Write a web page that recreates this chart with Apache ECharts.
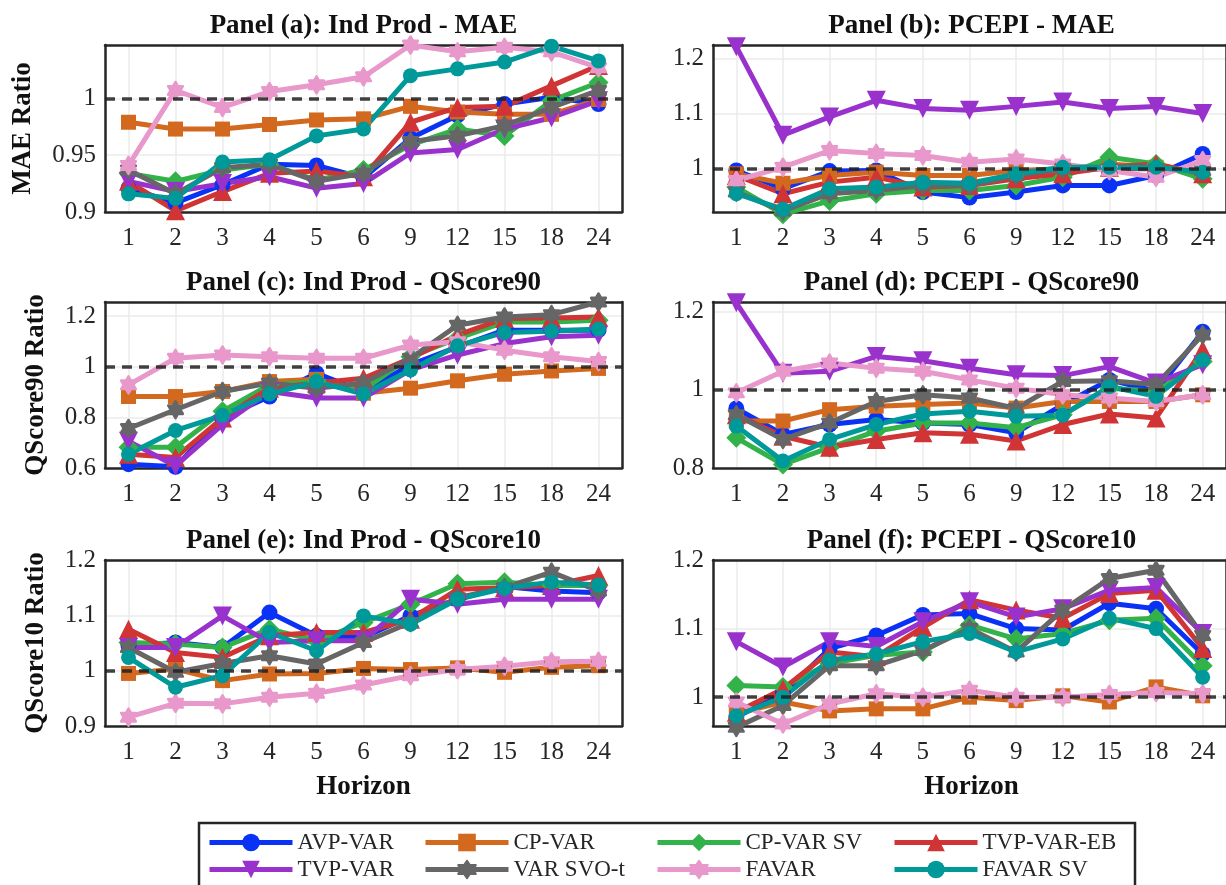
<!DOCTYPE html>
<html><head><meta charset="utf-8">
<script src="https://cdn.jsdelivr.net/npm/echarts@6/dist/echarts.min.js"></script>
<style>html,body{margin:0;padding:0;background:#fff}#c{width:1226px;height:885px}</style>
</head><body><div id="c"></div>
<script>
// ---------- DATA ----------
const horizons = ['1','2','3','4','5','6','9','12','15','18','24'];
const seriesNames = ['AVP-VAR','CP-VAR','CP-VAR SV','TVP-VAR-EB','TVP-VAR','VAR SVO-t','FAVAR','FAVAR SV'];
const panelTitles = ['Panel (a): Ind Prod - MAE','Panel (b): PCEPI - MAE','Panel (c): Ind Prod - QScore90','Panel (d): PCEPI - QScore90','Panel (e): Ind Prod - QScore10','Panel (f): PCEPI - QScore10'];
const yAxisTitles = ['MAE Ratio','QScore90 Ratio','QScore10 Ratio'];
const xAxisTitle = 'Horizon';

// Panel (a) Ind Prod - MAE
const a_avp    = [0.921,0.908,0.924,0.942,0.941,0.930,0.965,0.985,0.995,1.001,0.995];
const a_cp     = [0.979,0.973,0.973,0.977,0.981,0.982,0.993,0.988,0.986,0.986,0.999];
const a_cpsv   = [0.934,0.927,0.937,0.942,0.928,0.937,0.959,0.973,0.967,0.998,1.014];
const a_tvpeb  = [0.927,0.901,0.918,0.934,0.936,0.931,0.979,0.992,0.993,1.011,1.029];
const a_tvp    = [0.927,0.918,0.925,0.931,0.921,0.925,0.952,0.955,0.973,0.983,0.998];
const a_svo    = [0.937,0.916,0.939,0.942,0.927,0.934,0.962,0.967,0.976,0.992,1.007];
const a_favar  = [0.941,1.007,0.992,1.006,1.012,1.019,1.047,1.041,1.045,1.041,1.027];
const a_favsv  = [0.916,0.912,0.944,0.946,0.967,0.973,1.020,1.026,1.032,1.046,1.033];
const a_yticks = [0.9,0.95,1];

// Panel (b) PCEPI - MAE
const b_avp    = [0.997,0.964,0.996,0.997,0.958,0.948,0.958,0.970,0.970,0.988,1.027];
const b_cp     = [0.991,0.974,0.988,0.994,0.988,0.988,0.997,1.000,1.009,1.003,0.991];
const b_cpsv   = [0.967,0.918,0.942,0.955,0.961,0.961,0.970,0.985,1.021,1.009,0.982];
const b_tvpeb  = [0.988,0.955,0.976,0.985,0.967,0.970,0.982,0.991,1.003,1.009,0.991];
const b_tvp    = [1.221,1.061,1.094,1.124,1.109,1.106,1.113,1.121,1.109,1.113,1.100];
const b_svo    = [0.958,0.924,0.955,0.961,0.970,0.970,0.988,1.000,1.000,1.000,0.997];
const b_favar  = [0.979,1.003,1.033,1.028,1.024,1.012,1.018,1.009,0.997,0.985,1.015];
const b_favsv  = [0.955,0.927,0.964,0.967,0.976,0.974,0.991,1.003,1.003,1.003,0.994];
const b_yticks = [1,1.1,1.2];

// Panel (c) Ind Prod - QScore90
const c_avp    = [0.615,0.605,0.797,0.882,0.974,0.902,1.007,1.078,1.144,1.144,1.144];
const c_cp     = [0.882,0.882,0.902,0.941,0.950,0.895,0.915,0.944,0.970,0.983,0.993];
const c_cpsv   = [0.682,0.682,0.824,0.928,0.941,0.908,1.039,1.111,1.176,1.176,1.183];
const c_tvpeb  = [0.654,0.641,0.797,0.915,0.935,0.954,1.033,1.124,1.190,1.192,1.196];
const c_tvp    = [0.706,0.608,0.771,0.902,0.876,0.876,0.987,1.046,1.091,1.118,1.124];
const c_svo    = [0.756,0.830,0.902,0.935,0.915,0.935,1.033,1.163,1.196,1.205,1.255];
const c_favar  = [0.928,1.033,1.046,1.039,1.033,1.033,1.085,1.098,1.065,1.039,1.020];
const c_favsv  = [0.654,0.748,0.808,0.892,0.941,0.892,0.987,1.082,1.135,1.140,1.148];
const c_yticks = [0.6,0.8,1,1.2];

// Panel (d) PCEPI - QScore90
const d_avp    = [0.952,0.886,0.911,0.924,0.915,0.911,0.890,0.962,1.025,0.996,1.148];
const d_cp     = [0.920,0.920,0.949,0.958,0.962,0.966,0.953,0.970,0.970,0.970,0.987];
const d_cpsv   = [0.877,0.809,0.852,0.894,0.915,0.915,0.903,0.936,1.004,0.996,1.072];
const d_tvpeb  = [0.936,0.881,0.853,0.873,0.890,0.886,0.869,0.911,0.938,0.928,1.102];
const d_tvp    = [1.222,1.042,1.047,1.085,1.074,1.055,1.038,1.036,1.059,1.017,1.064];
const d_svo    = [0.936,0.873,0.915,0.970,0.987,0.979,0.952,1.021,1.023,1.013,1.140];
const d_favar  = [0.992,1.047,1.068,1.055,1.047,1.025,1.004,0.987,0.979,0.970,0.987];
const d_favsv  = [0.907,0.818,0.873,0.911,0.938,0.945,0.932,0.935,1.008,0.983,1.076];
const d_yticks = [0.8,1,1.2];

// Panel (e) Ind Prod - QScore10
const e_avp    = [1.045,1.051,1.042,1.105,1.063,1.060,1.099,1.129,1.152,1.144,1.141];
const e_cp     = [0.995,1.003,0.982,0.994,0.995,1.004,1.002,1.005,0.997,1.006,1.009];
const e_cpsv   = [1.051,1.048,1.042,1.075,1.054,1.087,1.120,1.157,1.160,1.154,1.154];
const e_tvpeb  = [1.075,1.033,1.024,1.063,1.069,1.069,1.093,1.147,1.150,1.154,1.172];
const e_tvp    = [1.042,1.042,1.099,1.051,1.054,1.054,1.129,1.120,1.129,1.129,1.129];
const e_svo    = [1.042,0.997,1.013,1.027,1.012,1.051,1.087,1.132,1.150,1.178,1.144];
const e_favar  = [0.916,0.941,0.940,0.952,0.959,0.974,0.991,1.002,1.008,1.016,1.017];
const e_favsv  = [1.024,0.970,0.991,1.069,1.036,1.099,1.084,1.129,1.149,1.160,1.155];
const e_yticks = [0.9,1,1.1,1.2];

// Panel (f) PCEPI - QScore10
const f_avp    = [0.971,1.005,1.071,1.090,1.120,1.122,1.100,1.098,1.137,1.129,1.063];
const f_cp     = [0.976,0.993,0.980,0.983,0.983,1.000,0.995,1.002,0.993,1.015,1.002];
const f_cpsv   = [1.017,1.015,1.049,1.061,1.066,1.105,1.085,1.093,1.112,1.115,1.046];
const f_tvpeb  = [0.978,1.012,1.066,1.059,1.102,1.142,1.127,1.115,1.151,1.156,1.071];
const f_tvp    = [1.081,1.044,1.081,1.074,1.110,1.139,1.117,1.129,1.156,1.160,1.093];
const f_svo    = [0.956,0.988,1.046,1.046,1.068,1.100,1.066,1.127,1.173,1.185,1.090];
const f_favar  = [0.993,0.961,0.990,1.005,1.000,1.010,1.000,1.000,1.004,1.007,1.005];
const f_favsv  = [0.973,1.000,1.054,1.063,1.081,1.093,1.066,1.085,1.115,1.100,1.029];
const f_yticks = [1,1.1,1.2];

const panelData = [
  [a_avp,a_cp,a_cpsv,a_tvpeb,a_tvp,a_svo,a_favar,a_favsv],
  [b_avp,b_cp,b_cpsv,b_tvpeb,b_tvp,b_svo,b_favar,b_favsv],
  [c_avp,c_cp,c_cpsv,c_tvpeb,c_tvp,c_svo,c_favar,c_favsv],
  [d_avp,d_cp,d_cpsv,d_tvpeb,d_tvp,d_svo,d_favar,d_favsv],
  [e_avp,e_cp,e_cpsv,e_tvpeb,e_tvp,e_svo,e_favar,e_favsv],
  [f_avp,f_cp,f_cpsv,f_tvpeb,f_tvp,f_svo,f_favar,f_favsv]
];
const panelTicks = [a_yticks,b_yticks,c_yticks,d_yticks,e_yticks,f_yticks];
const referenceValue = 1;

// ---------- STYLE / LAYOUT ----------
const FONT = '"Liberation Serif", "Times New Roman", serif';
const INK = '#262626';
const hexagram = 'path://M100,0 L128.9,50 L186.6,50 L157.7,100 L186.6,150 L128.9,150 L100,200 L71.1,150 L13.4,150 L42.3,100 L13.4,50 L71.1,50 Z';
const styles = [
  {color:'#0a32f5', symbol:'circle',   size:16, rotate:0,   border:0},
  {color:'#d2691e', symbol:'rect',     size:15, rotate:0,   border:0},
  {color:'#33b24a', symbol:'diamond',  size:20, rotate:0,   border:0},
  {color:'#d03434', symbol:'triangle', size:19, rotate:0,   border:0},
  {color:'#9932cc', symbol:'triangle', size:19, rotate:180, border:0},
  {color:'#666666', symbol:hexagram,   size:17, rotate:0,   border:2.5},
  {color:'#e898cb', symbol:hexagram,   size:17, rotate:0,   border:2.5},
  {color:'#009999', symbol:'circle',   size:15, rotate:0,   border:0}
];
const yRanges = [[0.9,1.047],[0.922,1.224],[0.6,1.255],[0.8,1.224],[0.9,1.2],[0.958,1.2]];
const colLeft = [105, 713];
const rowTop = [45, 302, 560];
const rowH = [167, 166, 166];
const gridW = 517;

const grids = [], xAxes = [], yAxes = [], series = [], graphics = [];
for (let p = 0; p < 6; p++) {
  const col = p % 2, row = Math.floor(p / 2);
  grids.push({left: colLeft[col], top: rowTop[row], width: gridW, height: rowH[row], containLabel: false});
  const tickStyle = {inside: true, length: 6, alignWithLabel: true, lineStyle: {color: INK, width: 2}};
  const lineStyle = {show: true, lineStyle: {color: INK, width: 2.5}};
  xAxes.push({type: 'category', gridIndex: p, data: horizons, boundaryGap: true, position: 'bottom',
    axisLine: lineStyle, axisTick: tickStyle,
    splitLine: {show: true, alignWithLabel: true, lineStyle: {color: '#ebebeb', width: 1.5}},
    axisLabel: {margin: 14, fontSize: 25, fontFamily: FONT, color: INK, interval: 0}});
  xAxes.push({type: 'category', gridIndex: p, data: horizons, boundaryGap: true, position: 'top',
    axisLine: lineStyle, axisTick: tickStyle, axisLabel: {show: false}, splitLine: {show: false}});
  const ticks = panelTicks[p];
  yAxes.push({type: 'value', gridIndex: p, min: yRanges[p][0], max: yRanges[p][1], position: 'left',
    axisLine: lineStyle,
    axisTick: {inside: true, length: 6, customValues: ticks, lineStyle: {color: INK, width: 2}},
    axisLabel: {customValues: ticks, margin: 9, fontSize: 25, fontFamily: FONT, color: INK,
      formatter: v => String(parseFloat(Number(v).toFixed(4)))},
    splitLine: {show: true, lineStyle: {color: '#ebebeb', width: 1.5}}});
  yAxes.push({type: 'value', gridIndex: p, min: yRanges[p][0], max: yRanges[p][1], position: 'right',
    axisLine: lineStyle,
    axisTick: {inside: true, length: 6, customValues: ticks, lineStyle: {color: INK, width: 2}},
    axisLabel: {show: false}, splitLine: {show: false}});
  panelData[p].forEach((vals, s) => {
    const st = styles[s];
    series.push({type: 'line', name: seriesNames[s], xAxisIndex: 2*p, yAxisIndex: 2*p, data: vals,
      symbol: st.symbol, symbolSize: st.size, symbolRotate: st.rotate, symbolKeepAspect: true,
      showAllSymbol: true, clip: false, z: 2,
      lineStyle: {color: st.color, width: 5},
      itemStyle: {color: st.color, borderColor: st.color, borderWidth: st.border, borderJoin: 'round'}});
  });
  series.push({type: 'line', name: 'ref' + p, xAxisIndex: 2*p, yAxisIndex: 2*p, data: [], z: 4,
    markLine: {silent: true, symbol: ['none','none'], label: {show: false}, animation: false,
      lineStyle: {color: '#202020', width: 3.5, type: [10, 7], opacity: 0.85},
      data: [{yAxis: referenceValue}]}});
  // panel title
  graphics.push({type: 'text', x: colLeft[col] + gridW/2, y: rowTop[row] - 19,
    style: {text: panelTitles[p], fontFamily: FONT, fontWeight: 'bold', fontSize: 27, fill: '#111',
      textAlign: 'center', textVerticalAlign: 'middle'}});
}
// y axis titles
const yNameX = [23, 36, 36];
for (let r = 0; r < 3; r++) {
  graphics.push({type: 'text', x: yNameX[r], y: rowTop[r] + rowH[r]/2, rotation: Math.PI/2,
    style: {text: yAxisTitles[r], fontFamily: FONT, fontWeight: 'bold', fontSize: 27, fill: '#111',
      textAlign: 'center', textVerticalAlign: 'middle'}});
}
// x axis titles
for (let c = 0; c < 2; c++) {
  graphics.push({type: 'text', x: colLeft[c] + gridW/2, y: 787,
    style: {text: xAxisTitle, fontFamily: FONT, fontWeight: 'bold', fontSize: 27, fill: '#111',
      textAlign: 'center', textVerticalAlign: 'middle'}});
}
// legend box
graphics.push({type: 'rect', z: -1, shape: {x: 199, y: 823, width: 936, height: 80},
  style: {fill: '#fff', stroke: INK, lineWidth: 2.5}});

const legCols = [207, 423, 655, 892];
const legRows = [831, 858];
const legends = seriesNames.map((n, i) => ({
  data: [n], left: legCols[i % 4], top: legRows[Math.floor(i / 4)], padding: 0, z: 5,
  orient: 'horizontal', selectedMode: false, itemWidth: 83, itemHeight: 22,
  lineStyle: {width: 5},
  textStyle: {fontSize: 23, fontFamily: FONT, color: INK}
}));

const chart = echarts.init(document.getElementById('c'), null, {renderer: 'canvas'});
chart.setOption({
  animation: false,
  backgroundColor: '#fff',
  grid: grids, xAxis: xAxes, yAxis: yAxes, series: series,
  legend: legends,
  graphic: {elements: graphics}
});
</script></body></html>
